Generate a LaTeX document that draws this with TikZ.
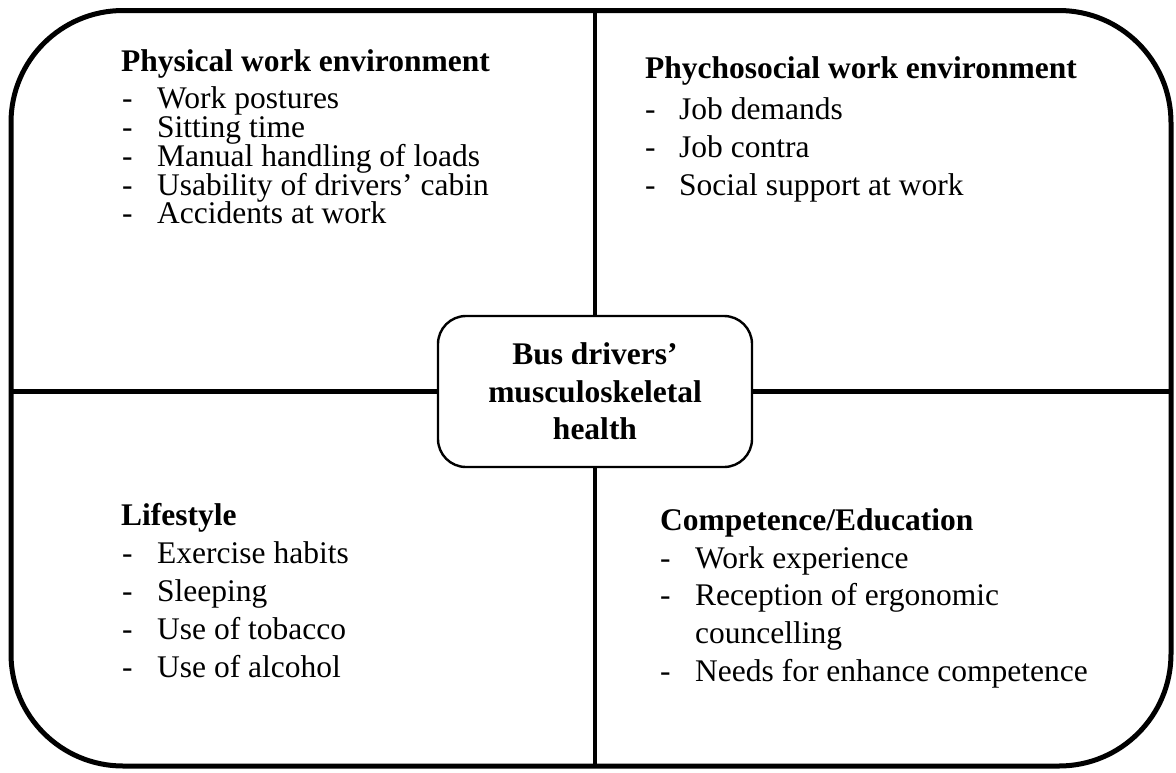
\documentclass[tikz,border=0pt]{standalone}
\usepackage{fontspec}
\setmainfont{Liberation Serif}
\newcommand\txtsize{\fontsize{31.5}{37.7}\selectfont}
\begin{document}
\begin{tikzpicture}[x=1pt,y=-1pt,
  head/.style={font=\txtsize\bfseries, anchor=base west, inner sep=0pt},
  item/.style={font=\txtsize, anchor=base west, inner sep=0pt},
  dashmark/.style={font=\txtsize, anchor=base west, inner sep=0pt},
  divider/.style={line width=4.3pt}]
\useasboundingbox (0,0) rectangle (1176,772);

% outer frame and central box
\node[draw, line width=5pt, rounded corners=112pt, minimum width=1160pt,
      minimum height=755.5pt, inner sep=0pt, outer sep=0pt] (frame) at (591,388.25) {};
\node[draw, fill=white, line width=2.4pt, rounded corners=28pt, minimum width=314pt,
      minimum height=151pt, align=center, font=\txtsize\bfseries, inner sep=0pt,
      outer sep=0pt] (hub) at (595,391.5) {Bus drivers’\\musculoskeletal\\health};

% quadrant dividers
\draw[divider] (hub.north) -- (hub.north |- frame.north);
\draw[divider] (hub.south) -- (hub.south |- frame.south);
\draw[divider] (hub.west) -- (hub.west -| frame.west);
\draw[divider] (hub.east) -- (hub.east -| frame.east);

% physical work environment (tighter list spacing)
\node[head] (pwe) at (121,71) {Physical work environment};
\node[dashmark] (pwe-d1) at (122,108.5) {-};
\node[item] (pwe-1) at (157,108.5) {Work postures};
\node[dashmark] (pwe-d2) at (122,137.3) {-};
\node[item] (pwe-2) at (157,137.3) {Sitting time};
\node[dashmark] (pwe-d3) at (122,166) {-};
\node[item] (pwe-3) at (157,166) {Manual handling of loads};
\node[dashmark] (pwe-d4) at (122,195) {-};
\node[item] (pwe-4) at (157,195) {Usability of drivers’ cabin};
\node[dashmark] (pwe-d5) at (122,223.5) {-};
\node[item] (pwe-5) at (157,223.5) {Accidents at work};

% psychosocial work environment
\node[head] (psy) at (645,78) {Phychosocial work environment};
\node[dashmark] (psy-d1) at (645,119.3) {-};
\node[item] (psy-1) at (679,119.3) {Job demands};
\node[dashmark] (psy-d2) at (645,157) {-};
\node[item] (psy-2) at (679,157) {Job contra};
\node[dashmark] (psy-d3) at (645,195) {-};
\node[item] (psy-3) at (679,195) {Social support at work};

% lifestyle
\node[head] (life) at (121,525) {Lifestyle};
\node[dashmark] (life-d1) at (122,563) {-};
\node[item] (life-1) at (157,563) {Exercise habits};
\node[dashmark] (life-d2) at (122,601) {-};
\node[item] (life-2) at (157,601) {Sleeping};
\node[dashmark] (life-d3) at (122,639) {-};
\node[item] (life-3) at (157,639) {Use of tobacco};
\node[dashmark] (life-d4) at (122,677) {-};
\node[item] (life-4) at (157,677) {Use of alcohol};

% competence / education
\node[head] (comp) at (660,530) {Competence/Education};
\node[dashmark] (comp-d1) at (660,568) {-};
\node[item] (comp-1) at (695,568) {Work experience};
\node[dashmark] (comp-d2) at (660,605.5) {-};
\node[item] (comp-2) at (695,605.5) {Reception of ergonomic};
\node[item] (comp-2b) at (695,643) {councelling};
\node[dashmark] (comp-d3) at (660,681) {-};
\node[item] (comp-3) at (695,681) {Needs for enhance competence};
\end{tikzpicture}
\end{document}
